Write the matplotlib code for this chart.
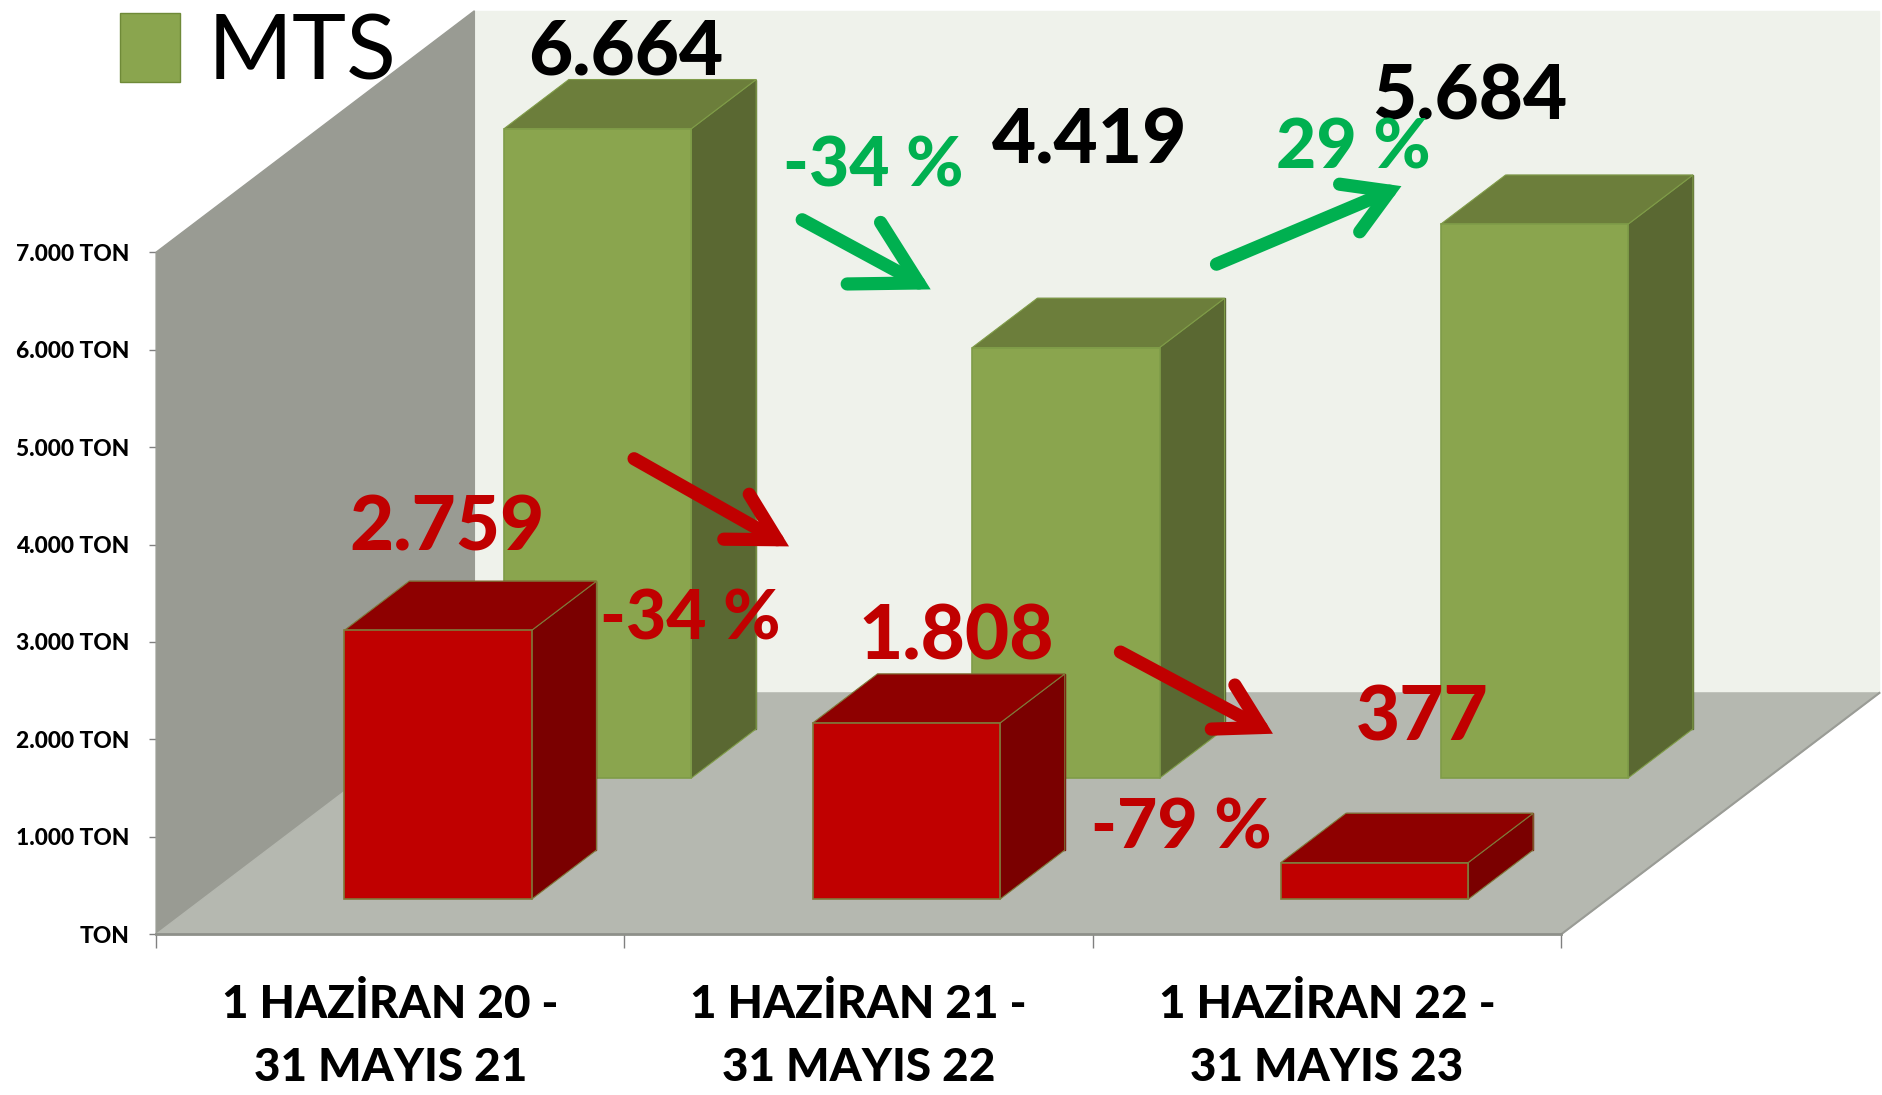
import matplotlib
matplotlib.use("Agg")
import matplotlib.pyplot as plt
from matplotlib.patches import Patch

# ---- data ----
categories = ["1 HAZİRAN 20 -\n31 MAYIS 21", "1 HAZİRAN 21 -\n31 MAYIS 22", "1 HAZİRAN 22 -\n31 MAYIS 23"]
mts = [6664, 4419, 5684]
red_series = [2759, 1808, 377]
mts_change = ["-34 %", "29 %"]
red_change = ["-34 %", "-79 %"]
yticks = [0, 1000, 2000, 3000, 4000, 5000, 6000, 7000]
series_name = "MTS"

# ---- style / layout ----
W, H = 1883, 1095
S = W / 1568.0
FONT = "Lato"
HEAVY = 900
DX, DY = 0.6795, 2477.0      # projection of unit depth
BAR_W = 0.40
BAR_D = 0.204
BAR_SHIFT = 0.003
C_BACK, C_SIDE, C_FLOOR = "#EFF2EB", "#999B93", "#B5B8B0"
GREEN = dict(front="#8AA54E", top="#6C7E3B", side="#5A6832", edge="#7F9C48")
RED = dict(front="#C00000", top="#8E0000", side="#7A0000", edge="#7F7A3A")
C_GREEN_TXT, C_RED_TXT = "#00B050", "#C00000"


def fx(x):
    return x * S / W


def fy(y):
    return 1 - y * S / H


def proj(x, v, d):
    return x + d * DX, v + d * DY


fig = plt.figure(figsize=(W / 100, H / 100), dpi=100, facecolor="white")
ax = fig.add_axes([fx(130), fy(778), fx(1300) - fx(130), fy(210) - fy(778)])
ax.patch.set_visible(False)


def face(pts, color, edge=None, z=1, lw=1.0):
    xs, ys = zip(*pts)
    ax.fill(xs, ys, facecolor=color, edgecolor=edge if edge else color, linewidth=lw,
            zorder=z, clip_on=False, joinstyle="miter")


ymax = yticks[-1]
n = len(categories)
# walls and floor
face([proj(0, 0, 1), proj(n, 0, 1), proj(n, ymax, 1), proj(0, ymax, 1)], C_BACK, z=1)
face([proj(0, 0, 0), proj(0, 0, 1), proj(0, ymax, 1), proj(0, ymax, 0)], C_SIDE, z=2)
face([proj(0, 0, 0), proj(n, 0, 0), proj(n, 0, 1), proj(0, 0, 1)], C_FLOOR, z=2)
ax.plot(*zip(proj(n, 0, 0), proj(n, 0, 1)), color="#9A9C96", lw=1.5, zorder=2.5, clip_on=False)


def bar3d(i, v, d, c, z):
    x0, x1 = i + 0.5 + BAR_SHIFT - BAR_W / 2, i + 0.5 + BAR_SHIFT + BAR_W / 2
    face([proj(x0, 0, d + BAR_D), proj(x1, 0, d + BAR_D), proj(x1, v, d + BAR_D), proj(x0, v, d + BAR_D)], c["side"], z=z)
    face([proj(x1, 0, d), proj(x1, 0, d + BAR_D), proj(x1, v, d + BAR_D), proj(x1, v, d)], c["side"], c["edge"], z=z + 0.1, lw=0.8)
    face([proj(x0, v, d), proj(x1, v, d), proj(x1, v, d + BAR_D), proj(x0, v, d + BAR_D)], c["top"], c["edge"], z=z + 0.1, lw=0.8)
    face([proj(x0, 0, d), proj(x1, 0, d), proj(x1, v, d), proj(x0, v, d)], c["front"], c["edge"], z=z + 0.2, lw=1.2)


for i, v in enumerate(mts):
    bar3d(i, v, 0.647, GREEN, 3)
for i, v in enumerate(red_series):
    bar3d(i, v, 0.145, RED, 4)

# axes furniture
ax.set_xlim(0, n)
ax.set_ylim(0, ymax)
for s in ("top", "right", "left"):
    ax.spines[s].set_visible(False)
ax.spines["bottom"].set_color("#8E908A")
ax.spines["bottom"].set_linewidth(2)
ax.spines["bottom"].set_zorder(2.6)
ax.set_xticks(range(n + 1))
ax.set_xticklabels([])
ax.set_xticks([i + 0.5 for i in range(n)], minor=True)
ax.set_xticklabels(categories, minor=True, fontsize=33, fontweight=HEAVY, family=FONT,
                   color="black", linespacing=1.63)
ax.tick_params(axis="x", which="major", length=10, width=1, color="#808080")
ax.tick_params(axis="x", which="minor", length=0, pad=35.5)
ax.set_yticks(yticks)
ax.set_yticklabels([(f"{t:,}".replace(",", ".") + " TON") if t else "TON" for t in yticks],
                   fontsize=16.4, fontweight=HEAVY, family=FONT, color="black")
ax.tick_params(axis="y", length=5, width=1, color="#808080", pad=14.5)

# legend
leg = ax.legend(handles=[Patch(facecolor=GREEN["front"], edgecolor="#6F8A38", label=series_name)],
                loc="upper left", bbox_to_anchor=(fx(100), fy(10)), bbox_transform=fig.transFigure,
                frameon=False, prop=dict(family=FONT, size=66), handlelength=0.65, handleheight=0.78,
                handletextpad=0.3, borderpad=0, borderaxespad=0)
leg.set_zorder(8)

# value labels (hand-placed in the original)
val_pos = [(521, 44), (907, 118), (1224, 81)]
red_pos = [(372, 440), (796, 531), (1184, 598)]
for v, (x, y) in zip(mts, val_pos):
    fig.text(fx(x), fy(y), f"{v:,}".replace(",", "."), ha="center", va="center", fontsize=55,
             fontweight=HEAVY, family=FONT, color="black", zorder=9)
for v, (x, y) in zip(red_series, red_pos):
    fig.text(fx(x), fy(y), f"{v:,}".replace(",", "."), ha="center", va="center", fontsize=55,
             fontweight=HEAVY, family=FONT, color=C_RED_TXT, zorder=9)
for t, (x, y) in zip(mts_change, [(727, 139), (1127, 124)]):
    fig.text(fx(x), fy(y), t, ha="center", va="center", fontsize=50, fontweight=HEAVY,
             family=FONT, color=C_GREEN_TXT, zorder=10)
for t, (x, y) in zip(red_change, [(575, 516), (984, 690)]):
    fig.text(fx(x), fy(y), t, ha="center", va="center", fontsize=50, fontweight=HEAVY,
             family=FONT, color=C_RED_TXT, zorder=10)

# arrows: start, tip, colour, head length, head width
arrows = [((668, 183), (775, 241), C_GREEN_TXT, 0.75, 0.42),
          ((1013, 220), (1167, 155), C_GREEN_TXT, 0.52, 0.31),
          ((528, 382), (657, 455), C_RED_TXT, 0.56, 0.31),
          ((933, 543), (1060, 611), C_RED_TXT, 0.52, 0.30)]
for (a, b, c, hl, hw) in arrows:
    ax.annotate("", xy=(fx(b[0]), fy(b[1])), xytext=(fx(a[0]), fy(a[1])),
                xycoords="figure fraction", textcoords="figure fraction",
                arrowprops=dict(arrowstyle=f"->,head_length={hl},head_width={hw}", color=c, lw=9.5,
                                mutation_scale=60, shrinkA=0, shrinkB=0, joinstyle="miter",
                                capstyle="round"), zorder=7, annotation_clip=False)

fig.savefig("out.png", dpi=100)
